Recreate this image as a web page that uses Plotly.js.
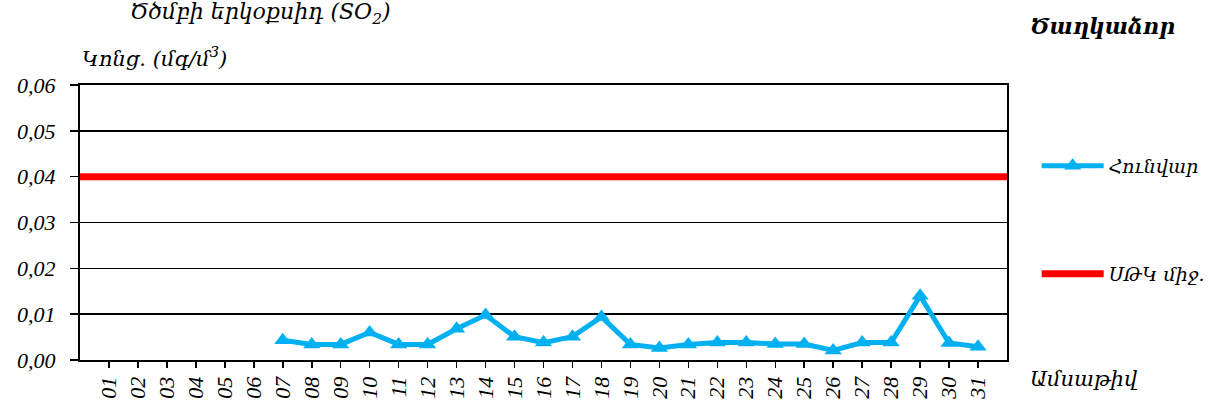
<!DOCTYPE html>
<html>
<head>
<meta charset="utf-8">
<script src="https://cdn.plot.ly/plotly-3.0.1.min.js"></script>
<style>html,body{margin:0;padding:0;background:#fff;}#chart{width:1217px;height:408px;}</style>
</head>
<body>
<div id="chart"></div>
<script>
// Data
const dayLabels = ["01","02","03","04","05","06","07","08","09","10","11","12","13","14","15","16","17","18","19","20","21","22","23","24","25","26","27","28","29","30","31"];
const dayNumbers = [1,2,3,4,5,6,7,8,9,10,11,12,13,14,15,16,17,18,19,20,21,22,23,24,25,26,27,28,29,30,31];
const januaryValues = [null,null,null,null,null,null,0.0043,0.0034,0.0034,0.0060,0.0034,0.0034,0.0068,0.0098,0.0051,0.0038,0.0051,0.0094,0.0034,0.0026,0.0034,0.0038,0.0038,0.0035,0.0035,0.0021,0.0038,0.0038,0.0140,0.0037,0.0029];
const limitX = [0, 32];
const limitValues = [0.04, 0.04];
const seriesNames = ["Հունվար", "ՍԹԿ միջ."];

const FONT = "Liberation Serif";
const ARM = "DejaVu Serif";

const traces = [
  {
    x: dayNumbers, y: januaryValues, name: seriesNames[0], type: "scatter", mode: "lines+markers",
    line: {color: "#00B0F0", width: 5},
    marker: {symbol: "triangle-up", size: 15, color: "#00B0F0"},
    connectgaps: false, showlegend: true, legend: "legend", cliponaxis: false
  },
  {
    x: limitX, y: limitValues, name: seriesNames[1], type: "scatter", mode: "lines",
    line: {color: "#FF0000", width: 7}, showlegend: true, legend: "legend2"
  }
];

const layout = {
  width: 1217, height: 408,
  margin: {l: 80, r: 210, t: 85, b: 48, autoexpand: false},
  paper_bgcolor: "#fff", plot_bgcolor: "#fff",
  separators: ",.",
  showlegend: true,
  font: {family: FONT, color: "#000", size: 20, style: "italic"},
  title: {
    text: "Ծծմբի երկօքսիդ (SO<sub>2</sub>)",
    xref: "container", yref: "container",
    x: 130/1217, xanchor: "left", y: 1 - 4/408, yanchor: "top",
    font: {family: ARM, size: 22, style: "italic", color: "#000"}
  },
  xaxis: {
    range: [0, 32], tickmode: "array", tickvals: dayNumbers, ticktext: dayLabels,
    tickangle: -90, ticks: "outside", ticklen: 6, tickwidth: 1.5, tickcolor: "#000",
    showline: true, linecolor: "#000", linewidth: 2, mirror: true,
    showgrid: false, zeroline: false,
    tickfont: {family: FONT, size: 22, style: "italic", color: "#000"}
  },
  yaxis: {
    range: [0, 0.06], dtick: 0.01, tickformat: ".2f",
    ticks: "outside", ticklen: 8, tickwidth: 1.5, tickcolor: "#000",
    ticklabelstandoff: 10,
    showline: true, linecolor: "#000", linewidth: 2, mirror: true,
    showgrid: true, gridcolor: "#000", gridwidth: 1.5, zeroline: false,
    tickfont: {family: FONT, size: 22, style: "italic", color: "#000"}
  },
  legend: {
    visible: true,
    x: 1.032, xanchor: "left", y: (360-166)/275, yanchor: "middle",
    font: {family: ARM, size: 19, style: "italic", color: "#000"},
    bgcolor: "rgba(0,0,0,0)", itemwidth: 62
  },
  legend2: {
    visible: true,
    x: 1.032, xanchor: "left", y: (360-274)/275, yanchor: "middle",
    font: {family: ARM, size: 19, style: "italic", color: "#000"},
    bgcolor: "rgba(0,0,0,0)", itemwidth: 62
  },
  annotations: [
    {
      text: "Կոնց. (մգ/մ<sup>3</sup>)", xref: "paper", yref: "paper",
      x: 0, xanchor: "left", y: 1 + 12/275, yanchor: "bottom", showarrow: false,
      font: {family: ARM, size: 21, style: "italic", color: "#000"}
    },
    {
      text: "<b>Ծաղկաձոր</b>", xref: "paper", yref: "paper",
      x: (1028-80)/927, xanchor: "left", y: 1 + 44/275, yanchor: "bottom", showarrow: false,
      font: {family: ARM, size: 22, style: "italic", color: "#000"}
    },
    {
      text: "Ամսաթիվ", xref: "paper", yref: "paper",
      x: (1028-80)/927, xanchor: "left", y: -5/275, yanchor: "top", showarrow: false,
      font: {family: ARM, size: 21, style: "italic", color: "#000"}
    }
  ]
};

Plotly.newPlot("chart", traces, layout, {displayModeBar: false, staticPlot: true});
</script>
</body>
</html>
